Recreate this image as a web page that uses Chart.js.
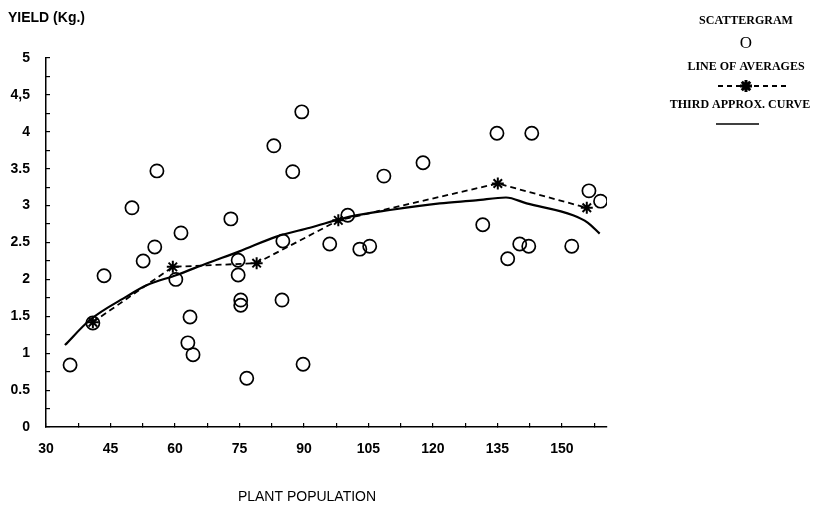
<!DOCTYPE html>
<html>
<head>
<meta charset="utf-8">
<script src="https://cdn.jsdelivr.net/npm/chart.js@4.4.1/dist/chart.umd.min.js"></script>
<style>
  html, body { margin: 0; padding: 0; background: #fff; }
  #wrap { width: 826px; height: 511px; position: relative; }
</style>
</head>
<body>
<div id="wrap"><canvas id="c" width="826" height="511"></canvas></div>
<script>
// ---- data ----
const xTickValues = [30, 45, 60, 75, 90, 105, 120, 135, 150];
const yTickLabels = ['0', '0.5', '1', '1.5', '2', '2.5', '3', '3.5', '4', '4,5', '5'];

const scatterX = [35.6, 40.9, 43.5, 50.0, 52.6, 55.3, 55.8, 60.2, 61.4, 63.0, 63.5, 64.2,
                  73.0, 74.7, 74.7, 75.3, 75.3, 76.7, 83.0, 84.9, 85.1, 87.4, 89.5, 89.8,
                  96.0, 100.2, 103.0, 105.3, 108.6, 117.7, 131.6, 134.9, 137.4, 140.2, 142.3,
                  143.0, 152.3, 156.3, 159.0];
const scatterY = [0.84, 1.41, 2.05, 2.97, 2.25, 2.44, 3.47, 2.00, 2.63, 1.14, 1.49, 0.98,
                  2.82, 2.26, 2.06, 1.72, 1.65, 0.66, 3.81, 1.72, 2.52, 3.46, 4.27, 0.85,
                  2.48, 2.87, 2.41, 2.45, 3.40, 3.58, 2.74, 3.98, 2.28, 2.48, 2.45,
                  3.98, 2.45, 3.20, 3.06];

const averagesX = [40.9, 59.5, 79.0, 98.0, 135.1, 155.8];
const averagesY = [1.42, 2.17, 2.22, 2.80, 3.30, 2.97];

const curveX = [34.4, 40.2, 48.8, 53.4, 60.4, 67.5, 75.0, 83.6, 91.4, 100.7, 110.0, 121.6, 130.0, 137.0, 141.8, 152.6, 156.0, 158.8];
const curveY = [1.11, 1.45, 1.77, 1.92, 2.06, 2.22, 2.38, 2.58, 2.70, 2.85, 2.94, 3.03, 3.07, 3.11, 3.03, 2.87, 2.77, 2.62];

const xTitle = 'PLANT POPULATION';
const yTitle = 'YIELD (Kg.)';
const legendItems = ['SCATTERGRAM', 'LINE OF AVERAGES', 'THIRD APPROX. CURVE'];

// ---- build library structures ----
const pts = (xs, ys) => xs.map((x, i) => ({ x: x, y: ys[i] }));

const xMinor = xTickValues.map((v, i) => i < xTickValues.length - 1 ? (v + xTickValues[i + 1]) / 2 : v + (v - xTickValues[i - 1]) / 2);
const yMajor = yTickLabels.map((l, i) => i * 0.5);
const yMinor = yMajor.slice(0, -1).map(v => v + 0.25);

const legendPlugin = {
  id: 'customText',
  afterDraw(chart) {
    const ctx = chart.ctx;
    ctx.save();
    ctx.fillStyle = '#000';
    ctx.strokeStyle = '#000';
    // axis titles
    ctx.font = 'bold 14px "Liberation Sans", Arial, sans-serif';
    ctx.textAlign = 'left';
    ctx.textBaseline = 'middle';
    ctx.fillText(yTitle, 8, 18);
    ctx.font = '14px "Liberation Sans", Arial, sans-serif';
    ctx.textAlign = 'center';
    ctx.fillText(xTitle, 307, 497);
    // legend
    const cx = 746;
    ctx.font = 'bold 12px "Liberation Serif", "Times New Roman", serif';
    ctx.fillText(legendItems[0], cx, 21);
    ctx.fillText(legendItems[1], cx, 67);
    ctx.fillText(legendItems[2], cx - 6, 105);
    // circle symbol
    ctx.font = '17px "Liberation Serif", "Times New Roman", serif';
    ctx.fillText('O', cx, 44);
    // dashed line + star
    ctx.lineWidth = 2;
    ctx.setLineDash([5, 4]);
    ctx.beginPath();
    ctx.moveTo(718, 86); ctx.lineTo(790, 86);
    ctx.stroke();
    ctx.setLineDash([]);
    ctx.lineWidth = 3;
    ctx.beginPath();
    for (let a = 0; a < 4; a++) {
      const ang = a * Math.PI / 4;
      ctx.moveTo(cx - 6 * Math.cos(ang), 86 - 6 * Math.sin(ang));
      ctx.lineTo(cx + 6 * Math.cos(ang), 86 + 6 * Math.sin(ang));
    }
    ctx.stroke();
    // solid line
    ctx.lineWidth = 1.6;
    ctx.beginPath();
    ctx.moveTo(716, 124); ctx.lineTo(759, 124);
    ctx.stroke();
    ctx.restore();
  }
};

new Chart(document.getElementById('c'), {
  type: 'scatter',
  data: {
    datasets: [
      {
        label: 'THIRD APPROX. CURVE',
        type: 'line',
        data: pts(curveX, curveY),
        borderColor: '#000',
        borderWidth: 2.2,
        pointRadius: 0,
        tension: 0.4,
        cubicInterpolationMode: 'monotone',
        fill: false
      },
      {
        label: 'LINE OF AVERAGES',
        type: 'line',
        data: pts(averagesX, averagesY),
        borderColor: '#000',
        borderWidth: 1.8,
        borderDash: [6, 4],
        pointStyle: 'star',
        pointRadius: 6,
        pointBorderWidth: 2,
        pointBorderColor: '#000',
        pointBackgroundColor: '#000',
        tension: 0,
        fill: false
      },
      {
        label: 'SCATTERGRAM',
        data: pts(scatterX, scatterY),
        pointStyle: 'circle',
        pointRadius: 6.6,
        pointBorderWidth: 1.7,
        pointBorderColor: '#000',
        pointBackgroundColor: 'rgba(0,0,0,0)'
      }
    ]
  },
  options: {
    responsive: false,
    animation: false,
    layout: { padding: { left: 0, top: 58, right: 219, bottom: 0 } },
    plugins: { legend: { display: false }, tooltip: { enabled: false } },
    scales: {
      x: {
        type: 'linear',
        min: 30,
        max: 160.5,
        afterBuildTicks(scale) {
          scale.ticks = xTickValues.concat(xMinor).sort((a, b) => a - b).map(v => ({ value: v }));
        },
        afterFit(scale) { scale.height = 84; },
        ticks: {
          autoSkip: false,
          maxRotation: 0,
          padding: 18,
          color: '#000',
          font: { family: '"Liberation Sans", Arial, sans-serif', size: 14, weight: 'bold' },
          callback: (v) => xTickValues.includes(v) ? String(v) : ''
        },
        grid: { drawOnChartArea: false, drawTicks: true, tickLength: -4, color: '#000', lineWidth: 1.2 },
        border: { display: true, color: '#000', width: 1.5 }
      },
      y: {
        min: 0,
        max: 5,
        afterBuildTicks(scale) {
          scale.ticks = yMajor.concat(yMinor).sort((a, b) => a - b).map(v => ({ value: v }));
        },
        afterFit(scale) { scale.width = 46; },
        ticks: {
          autoSkip: false,
          padding: 20,
          color: '#000',
          font: { family: '"Liberation Sans", Arial, sans-serif', size: 14, weight: 'bold' },
          callback: (v) => {
            const i = yMajor.findIndex(m => Math.abs(m - v) < 1e-9);
            return i >= 0 ? yTickLabels[i] : '';
          }
        },
        grid: { drawOnChartArea: false, drawTicks: true, tickLength: -4, color: '#000', lineWidth: 1.2 },
        border: { display: true, color: '#000', width: 1.5 }
      }
    }
  },
  plugins: [legendPlugin]
});
</script>
</body>
</html>
